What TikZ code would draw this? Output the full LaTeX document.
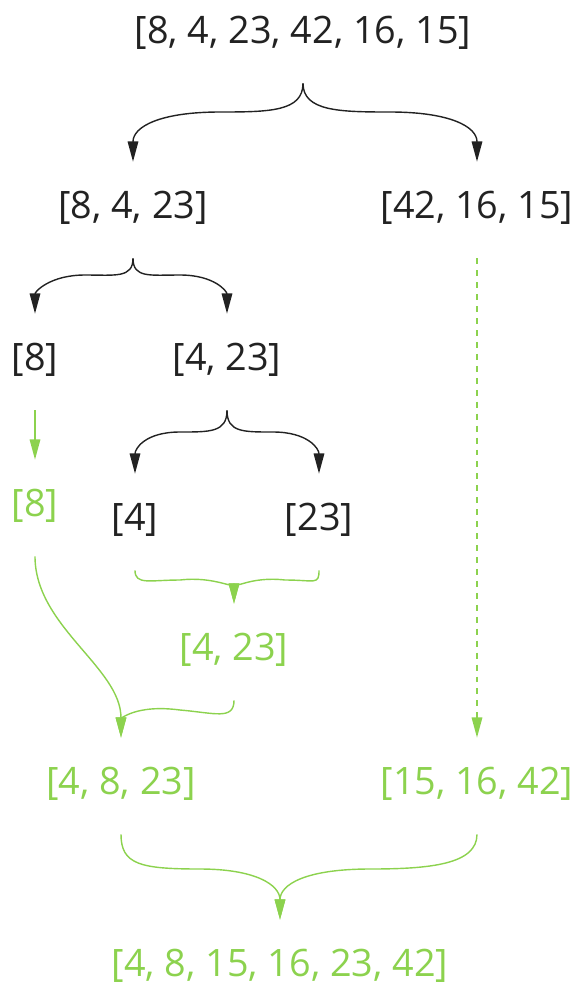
\documentclass[tikz,border=0pt]{standalone}
\usepackage{fontspec}
\setmainfont{Open Sans}
\usepackage{tikz}
\usetikzlibrary{arrows.meta}
\definecolor{ink}{HTML}{222222}
\definecolor{grn}{HTML}{8CD24E}
\begin{document}
\begin{tikzpicture}[x=0.02cm,y=-0.02cm,
  lbl/.style={font=\fontsize{21.5}{26}\selectfont, inner sep=0pt, text height=1.16em, text depth=0.22em, minimum height=1.92cm},
  blk/.style={draw=ink, line width=0.8pt, -{Triangle[length=11.5pt,width=6pt]}},
  gar/.style={draw=grn, line width=0.8pt, -{Triangle[length=11.5pt,width=6pt]}}]
\useasboundingbox (0,0) rectangle (572,1005);

\node[lbl, text=ink] (top) at (303,35) {[8, 4, 23, 42, 16, 15]};
\node[lbl, text=ink] (l) at (133,210) {[8, 4, 23]};
\node[lbl, text=ink] (r) at (477,210) {[42, 16, 15]};
\node[lbl, text=ink] (ll) at (35,362) {[8]};
\node[lbl, text=ink] (lr) at (227,362) {[4, 23]};
\node[lbl, text=grn] (gll) at (35,508) {[8]};
\node[lbl, text=ink] (lrl) at (135,522) {[4]};
\node[lbl, text=ink] (lrr) at (319,522) {[23]};
\node[lbl, text=grn] (glr) at (234,652) {[4, 23]};
\node[lbl, text=grn] (gl) at (121,786) {[4, 8, 23]};
\node[lbl, text=grn] (gr) at (477,786) {[15, 16, 42]};
\node[lbl, text=grn] (res) at (280,968) {[4, 8, 15, 16, 23, 42]};

% split
\draw[blk] (top.south) .. controls +(0,28) and +(50,0) .. (220,112) .. controls +(-60,0) and +(0,-35) .. (l.north);
\draw[blk] (top.south) .. controls +(0,28) and +(-50,0) .. (390,112) .. controls +(60,0) and +(0,-35) .. (r.north);
\draw[blk] (l.south) .. controls +(0,20) and +(30,0) .. (85,275) .. controls +(-35,0) and +(0,-22) .. (ll.north);
\draw[blk] (l.south) .. controls +(0,20) and +(-30,0) .. (180,275) .. controls +(35,0) and +(0,-22) .. (lr.north);
\draw[blk] (lr.south) .. controls +(0,22) and +(30,0) .. (180,432) .. controls +(-35,0) and +(0,-25) .. (lrl.north);
\draw[blk] (lr.south) .. controls +(0,22) and +(-30,0) .. (273,432) .. controls +(35,0) and +(0,-25) .. (lrr.north);

% merge
\draw[gar] (ll.south) -- (gll.north);
\draw[gar] (lrl.south) .. controls +(0,15) and +(-30,0) .. (180,580) .. controls +(35,-4) and +(0,-14) .. (glr.north);
\draw[gar] (lrr.south) .. controls +(0,15) and +(30,0) .. (285,580) .. controls +(-35,-4) and +(0,-14) .. (glr.north);
\draw[gar] (gll.south) .. controls +(0,70) and +(0,-70) .. (gl.north);
\draw[gar] (glr.south) .. controls +(0,20) and +(35,3) .. (180,710) .. controls +(-45,-6) and +(0,-18) .. (gl.north);
\draw[gar, dash pattern=on 3.4pt off 3.4pt] (r.south) -- (gr.north);
\draw[gar] (gl.south) .. controls +(0,30) and +(-60,0) .. (200,869) .. controls +(55,0) and +(0,-35) .. (res.north);
\draw[gar] (gr.south) .. controls +(0,30) and +(60,0) .. (370,869) .. controls +(-65,0) and +(0,-35) .. (res.north);
\end{tikzpicture}
\end{document}
